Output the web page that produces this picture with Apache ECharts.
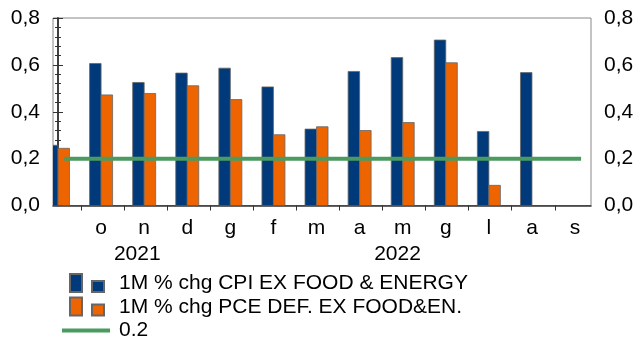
<!DOCTYPE html>
<html>
<head>
<meta charset="utf-8">
<script src="https://cdn.jsdelivr.net/npm/echarts@6/dist/echarts.min.js"></script>
<style>
  html, body { margin: 0; padding: 0; background: #fff; }
  #chart { width: 638px; height: 342px; }
</style>
</head>
<body>
<div id="chart"></div>
<script>
// months sep 2021 .. sep 2022 (first one is cut by the axis)
const months = ["s", "o", "n", "d", "g", "f", "m", "a", "m", "g", "l", "a", "s"];
const years = ["2021", "2022"];
const cpiCore = [0.257, 0.606, 0.525, 0.565, 0.586, 0.506, 0.326, 0.572, 0.631, 0.706, 0.316, 0.567, null];
const pceCore = [0.244, 0.472, 0.478, 0.511, 0.452, 0.302, 0.336, 0.320, 0.354, 0.609, 0.086, null, null];
const refLine = [0.2, 0.2, 0.2, 0.2, 0.2, 0.2, 0.2, 0.2, 0.2, 0.2, 0.2, 0.2, 0.2];

const names = [
  "1M % chg CPI EX FOOD & ENERGY",
  "1M % chg PCE DEF. EX FOOD&EN.",
  "0.2",
];

const FONT = "'Liberation Sans', Arial, sans-serif";
const FS = 21;
const BLUE = "#003a7a";
const ORANGE = "#ee6400";
const GREEN = "#4b9a60";
const AXIS = "#333";
const BAR_W = 11.5;

const chart = echarts.init(document.getElementById("chart"), null, { renderer: "canvas" });

const xMin = -0.116, xMax = 12.37;
const monthTicks = months.slice(1).map((m, i) => i + 0.53);
const monthLabels = months.map((m, i) => i).slice(1);
const yearPos = [1.84, 7.88];

const yAxisBase = (pos) => ({
  type: "value",
  position: pos,
  min: 0,
  max: 0.8,
  interval: 0.2,
  axisLine: { show: true, lineStyle: { color: AXIS, width: 1.5 } },
  axisTick: { show: true, inside: false, length: 5, lineStyle: { color: AXIS } },
  minorTick: { show: true, splitNumber: 5, length: 3, lineStyle: { color: AXIS } },
  splitLine: { show: false },
  axisLabel: {
    color: "#000",
    fontFamily: FONT,
    fontSize: FS,
    margin: 13,
    formatter: (v) => v.toFixed(1).replace(".", ","),
  },
});

// bars drawn from the axes, clipped exactly at the plot edge
const barItem = (side) => (params, api) => {
  const v = api.value(1);
  if (v == null || isNaN(v)) return null;
  const base = api.coord([api.value(0), 0]);
  const top = api.coord([api.value(0), v]);
  return {
    type: "rect",
    shape: { x: base[0] + (side < 0 ? -BAR_W : 0), y: top[1], width: BAR_W, height: base[1] - top[1] },
    style: api.style(),
  };
};

const barIcon = "path://M0,21L0,21M8,2H20V20H8ZM30,9H42V20H30ZM52,21L52,21";
const lineIcon = "path://M0,0L0,0M0,8.5H48V12.5H0ZM52,21L52,21";

const options = {
  animation: false,
  backgroundColor: "#fff",
  grid: {
    left: 53,
    right: 47,
    top: 18,
    bottom: 136.5,
    show: true,
    borderColor: "#888",
    borderWidth: 1,
  },
  legend: {
    orient: "vertical",
    left: 61,
    top: 273,
    padding: 0,
    itemWidth: 52,
    itemHeight: 21,
    itemGap: 2.5,
    textStyle: { color: "#000", fontFamily: FONT, fontSize: FS, lineHeight: 21 },
    data: [
      { name: names[0], icon: barIcon },
      { name: names[1], icon: barIcon },
      { name: names[2], icon: lineIcon, itemStyle: { color: GREEN, borderWidth: 0 } },
    ],
  },
  xAxis: [
    {
      type: "value",
      min: xMin,
      max: xMax,
      position: "bottom",
      axisLine: { show: true, onZero: false, lineStyle: { color: AXIS, width: 1.5 } },
      axisTick: { show: true, length: 5, customValues: monthTicks, lineStyle: { color: AXIS } },
      splitLine: { show: false },
      axisLabel: {
        customValues: monthLabels,
        color: "#000",
        fontFamily: FONT,
        fontSize: FS,
        margin: 12,
        formatter: (v) => months[Math.round(v)],
      },
    },
    {
      type: "value",
      min: xMin,
      max: xMax,
      position: "bottom",
      offset: 26,
      axisLine: { show: false },
      axisTick: { show: false },
      splitLine: { show: false },
      axisLabel: {
        customValues: yearPos,
        color: "#000",
        fontFamily: FONT,
        fontSize: FS,
        margin: 12,
        formatter: (v) => years[v < 5 ? 0 : 1],
      },
    },
    {
      type: "value",
      min: -0.26,
      max: 12.23,
      show: false,
    },
  ],
  yAxis: [yAxisBase("left"), yAxisBase("right")],
  series: [
    {
      name: names[0],
      type: "custom",
      xAxisIndex: 0,
      yAxisIndex: 0,
      clip: true,
      renderItem: barItem(-1),
      itemStyle: { color: BLUE, borderColor: "#666", borderWidth: 0.8 },
      encode: { x: 0, y: 1 },
      data: cpiCore.map((v, i) => [i, v]),
    },
    {
      name: names[1],
      type: "custom",
      xAxisIndex: 0,
      yAxisIndex: 0,
      clip: true,
      renderItem: barItem(1),
      itemStyle: { color: ORANGE, borderColor: "#666", borderWidth: 0.8 },
      encode: { x: 0, y: 1 },
      data: pceCore.map((v, i) => [i, v]),
    },
    {
      name: names[2],
      type: "line",
      xAxisIndex: 2,
      yAxisIndex: 0,
      showSymbol: false,
      symbol: "none",
      color: GREEN,
      lineStyle: { color: GREEN, width: 4 },
      data: refLine.map((v, i) => [i, v]),
    },
  ],
};

chart.setOption(options);
</script>
</body>
</html>
